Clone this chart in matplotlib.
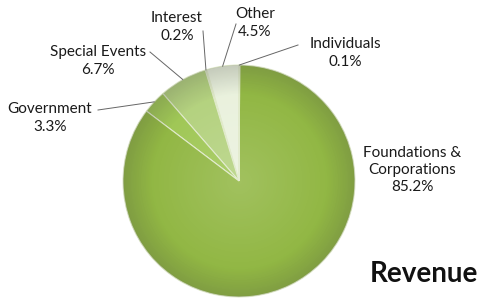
import numpy as np
import matplotlib
matplotlib.use("Agg")
import matplotlib.pyplot as plt
from matplotlib.patches import Circle

# revenue shares, counter-clockwise from the top
categories = ["Other", "Interest", "Special Events", "Government",
              "Foundations &\nCorporations", "Individuals"]
shares = [4.5, 0.2, 6.7, 3.3, 85.2, 0.1]
colors = ["#e9f1dc", "#c9dda2", "#b1d07a", "#9cc54f", "#8db43c", "#93b943"]

# label anchor (pixel coords of the picture)
label_pos = {
    "Other": (255, 23),
    "Interest": (177, 27),
    "Special Events": (98, 61),
    "Government": (50, 118),
    "Foundations &\nCorporations": (412, 170),
    "Individuals": (345, 53),
}
line_start = {
    "Other": (236, 24),
    "Interest": (203, 31),
    "Special Events": (150, 52),
    "Government": (98, 110),
    "Individuals": (298, 45),
}

W, H = 478, 299
plt.rcParams["font.family"] = ["Lato", "DejaVu Sans"]
fig = plt.figure(figsize=(W / 100, H / 100), dpi=100)
ax = fig.add_axes([0, 0, 1, 1])

cx, cy, r = 239, H - 181, 116
wedges, _ = ax.pie(shares, colors=colors, startangle=90, counterclock=True,
                   center=(cx, cy), radius=r, frame=True,
                   wedgeprops=dict(edgecolor="#dfe9c8", linewidth=0.8))

# soft shading to mimic the glossy look
yy, xx = np.mgrid[0:H, 0:W]
d = np.hypot(xx - cx, (H - yy) - cy) / r
shade = np.zeros((H, W, 4))
shade[..., :3] = 0.35
shade[..., 3] = np.clip((d - 0.75) / 0.25, 0, 1) * 0.25
hi = np.zeros((H, W, 4))
hi[..., :3] = 1.0
hi[..., 3] = np.clip(1 - d, 0, 1) * 0.18
clip = Circle((cx, cy), r, transform=ax.transData)
for img in (shade, hi):
    im = ax.imshow(img, extent=(0, W, 0, H), origin="upper", zorder=3)
    im.set_clip_path(clip)
ax.set_xlim(0, W)
ax.set_ylim(0, H)
ax.set_aspect("equal")
ax.axis("off")

# labels and leader lines
angle = 90.0
for w, cat, val in zip(wedges, categories, shares):
    mid = np.deg2rad(angle + val * 3.6 / 2)
    angle += val * 3.6
    lx, ly = label_pos[cat]
    ax.text(lx, H - ly, f"{cat}\n{val}%", ha="center", va="center",
            fontsize=11, color="#1a1a1a", linespacing=1.3, zorder=5)
    if cat in line_start:
        sx, sy = line_start[cat]
        ex, ey = cx + r * np.cos(mid), cy + r * np.sin(mid)
        ax.plot([sx, ex], [H - sy, ey], color="#666666", lw=0.7, zorder=5)

ax.text(424, H - 274, "Revenue", ha="center", va="center",
        fontsize=20, fontweight="bold", color="#111111")

fig.savefig("out.png", dpi=100)
